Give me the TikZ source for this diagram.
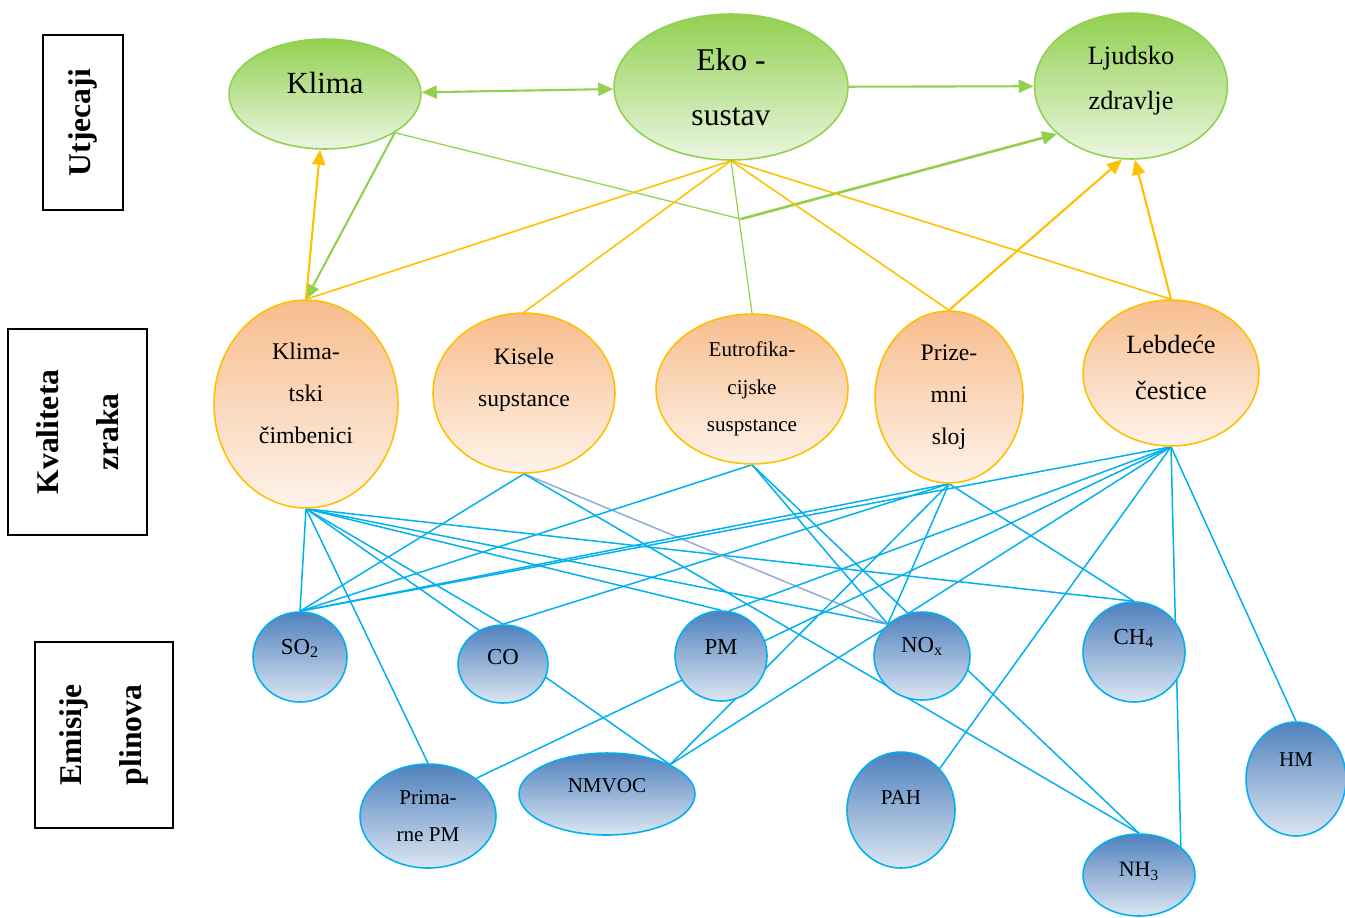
\documentclass[tikz,border=0pt]{standalone}
\usepackage{fontspec}
\setmainfont{Liberation Serif}
\usetikzlibrary{shapes,backgrounds,arrows.meta}
\definecolor{grnA}{HTML}{92D050}
\definecolor{grnB}{HTML}{EBF6E2}
\definecolor{orgA}{HTML}{F7BD8E}
\definecolor{orgB}{HTML}{FEF3EA}
\definecolor{gold}{HTML}{FFC000}
\definecolor{bluA}{HTML}{4F81BD}
\definecolor{bluB}{HTML}{DCE6F2}
\definecolor{sky}{HTML}{00B0F0}
\definecolor{lav}{HTML}{95A9D9}

\begin{document}
\begin{tikzpicture}[x=0.02cm, y=-0.02cm, >={Triangle[length=3mm,width=2.6mm]},
  impact/.style = {ellipse, draw=grnA, line width=0.9pt, top color=grnA, bottom color=grnB, inner sep=0pt, align=center},
  quality/.style = {ellipse, draw=gold, line width=0.9pt, top color=orgA, bottom color=orgB, inner sep=0pt, align=center},
  emis/.style = {ellipse, draw=sky, line width=0.9pt, top color=bluA, bottom color=bluB, inner sep=0pt, align=center},
  side/.style = {draw, line width=1.1pt, rotate=90, inner sep=0pt, align=center, font=\fontsize{18}{34}\selectfont\bfseries},
  glink/.style = {grnA, line width=1.2pt},
  olink/.style = {gold, line width=0.9pt},
  blink/.style = {sky, line width=0.85pt}]
\useasboundingbox (0,0) rectangle (1345,917);

% left captions
\node[side, minimum width=3.5cm, minimum height=1.6cm] (utj) at (83,122.5) {Utjecaji};
\node[side, minimum width=4.12cm, minimum height=2.78cm] (kvz) at (77.5,432) {Kvaliteta\\zraka};
\node[side, minimum width=3.72cm, minimum height=2.76cm] (emp) at (104,735) {Emisije\\plinova};

% impacts
\node[impact, minimum width=3.84cm, minimum height=2.2cm, font=\fontsize{17.5}{21}\selectfont] (klima) at (325,94) {\raisebox{0.44cm}{Klima}};
\node[impact, minimum width=4.68cm, minimum height=2.92cm, font=\fontsize{18}{31}\selectfont] (eko) at (731,87) {Eko -\\sustav};
\node[impact, minimum width=3.86cm, minimum height=2.92cm, font=\fontsize{15}{25.5}\selectfont] (zdravlje) at (1131,86) {Ljudsko\\zdravlje\\[-16.5pt]\mbox{}};

% air quality
\node[quality, minimum width=3.68cm, minimum height=4.16cm, font=\fontsize{13.6}{23.8}\selectfont] (klimf) at (306,404) {Klima-\\tski\\čimbenici\\[-11.2pt]\mbox{}};
\node[quality, minimum width=3.64cm, minimum height=3.2cm, font=\fontsize{13.4}{23.8}\selectfont] (kisele) at (524,393) {Kisele\\supstance\\[-6pt]\mbox{}};
\node[quality, minimum width=3.84cm, minimum height=3cm, font=\fontsize{12}{21.3}\selectfont] (eutro) at (752,389) {Eutrofika-\\cijske\\suspstance};
\node[quality, minimum width=2.96cm, minimum height=3.44cm, font=\fontsize{13.5}{24}\selectfont] (prizemni) at (949,397) {Prize-\\mni\\sloj};
\node[quality, minimum width=3.52cm, minimum height=2.92cm, font=\fontsize{15}{26}\selectfont] (cestice) at (1171,373) {Lebdeće\\čestice\\[-19.2pt]\mbox{}};

% emissions
\node[emis, minimum width=1.88cm, minimum height=1.8cm, font=\fontsize{13}{15}\selectfont] (so2) at (300,657) {\raisebox{0.41cm}{SO\textsubscript{2}}};
\node[emis, minimum width=1.8cm, minimum height=1.56cm, font=\fontsize{13}{15}\selectfont] (co) at (503,664) {\raisebox{0.28cm}{CO}};
\node[emis, minimum width=1.84cm, minimum height=1.8cm, font=\fontsize{13}{15}\selectfont] (pm) at (721,656) {\raisebox{0.36cm}{PM}};
\node[emis, minimum width=1.92cm, minimum height=1.76cm, font=\fontsize{13}{15}\selectfont] (nox) at (922,656) {\raisebox{0.43cm}{NO\textsubscript{x}}};
\node[emis, minimum width=2.04cm, minimum height=2cm, font=\fontsize{13}{15}\selectfont] (ch4) at (1134,652) {\raisebox{0.61cm}{CH\textsubscript{4}}};
\node[emis, minimum width=2.72cm, minimum height=2.08cm, font=\fontsize{12}{21}\selectfont] (ppm) at (428,816) {Prima-\\rne PM};
\node[emis, minimum width=3.52cm, minimum height=1.64cm, font=\fontsize{12}{15}\selectfont] (nmvoc) at (607,794) {\raisebox{0.32cm}{NMVOC}};
\node[emis, minimum width=2.16cm, minimum height=2.32cm, font=\fontsize{12}{15}\selectfont] (pah) at (901,810) {\raisebox{0.48cm}{PAH}};
\node[emis, minimum width=2.24cm, minimum height=1.64cm, font=\fontsize{12.5}{15}\selectfont] (nh3) at (1139,875) {\raisebox{0.21cm}{NH\textsubscript{3}}};
\node[emis, minimum width=2cm, minimum height=2.28cm, font=\fontsize{12}{15}\selectfont] (hm) at (1296,779) {\raisebox{0.76cm}{HM}};

\coordinate (bend) at (741,219);

\begin{scope}[on background layer]
  % impacts
  \draw[glink, <->] (klima) -- (eko);
  \draw[glink, ->] (eko) -- (zdravlje);
  \draw[glink, ->] (klima.-29) -- (klimf.north);
  \draw[grnA, line width=0.7pt] (klima.-29) -- (bend);
  \draw[grnA, line width=1.5pt, ->] (bend) -- (zdravlje.213);
  \draw[grnA, line width=0.7pt] (eko.south) -- (eutro.north);
  \draw[olink, line width=1.2pt, ->] (klimf.north) -- (klima.-95);
  \draw[olink] (eko.south) -- (klimf.north);
  \draw[olink] (eko.south) -- (kisele.north);
  \draw[olink] (eko.south) -- (prizemni.north);
  \draw[olink] (eko.south) -- (cestice.north);
  \draw[olink, line width=1.2pt, ->] (prizemni.north) -- (zdravlje.-97);
  \draw[olink, line width=1.2pt, ->] (cestice.north) -- (zdravlje.-87);
  % emissions to air quality
  \draw[blink] (klimf.south) -- (so2.north);
  \draw[blink] (klimf.south) -- (ppm.north);
  \draw[blink] (klimf.south) -- (nmvoc.25);
  \draw[blink] (klimf.south) -- (co.north);
  \draw[blink] (klimf.south) -- (pm.north);
  \draw[blink] (klimf.south) -- (nox.137);
  \draw[blink] (klimf.south) -- (ch4.north);
  \draw[blink] (kisele.south) -- (so2.north);
  \draw[lav, line width=0.85pt] (kisele.south) -- (nox.137);
  \draw[blink] (kisele.south) -- (nh3.north);
  \draw[blink] (eutro.south) -- (so2.north);
  \draw[blink] (eutro.south) -- (nox.137);
  \draw[blink] (eutro.south) -- (nh3.north);
  \draw[blink] (prizemni.south) -- (so2.north);
  \draw[blink] (prizemni.south) -- (co.north);
  \draw[blink] (prizemni.south) -- (nmvoc.25);
  \draw[blink] (prizemni.south) -- (nox.137);
  \draw[blink] (prizemni.south) -- (ch4.north);
  \draw[blink] (cestice.south) -- (so2.north);
  \draw[blink] (cestice.south) -- (pm.80);
  \draw[blink] (cestice.south) -- (ppm.38);
  \draw[blink] (cestice.south) -- (nmvoc.25);
  \draw[blink] (cestice.south) -- (pah.47);
  \draw[blink] (cestice.south) -- (nh3.34);
  \draw[blink] (cestice.south) -- (hm.north);
\end{scope}
\end{tikzpicture}
\end{document}
